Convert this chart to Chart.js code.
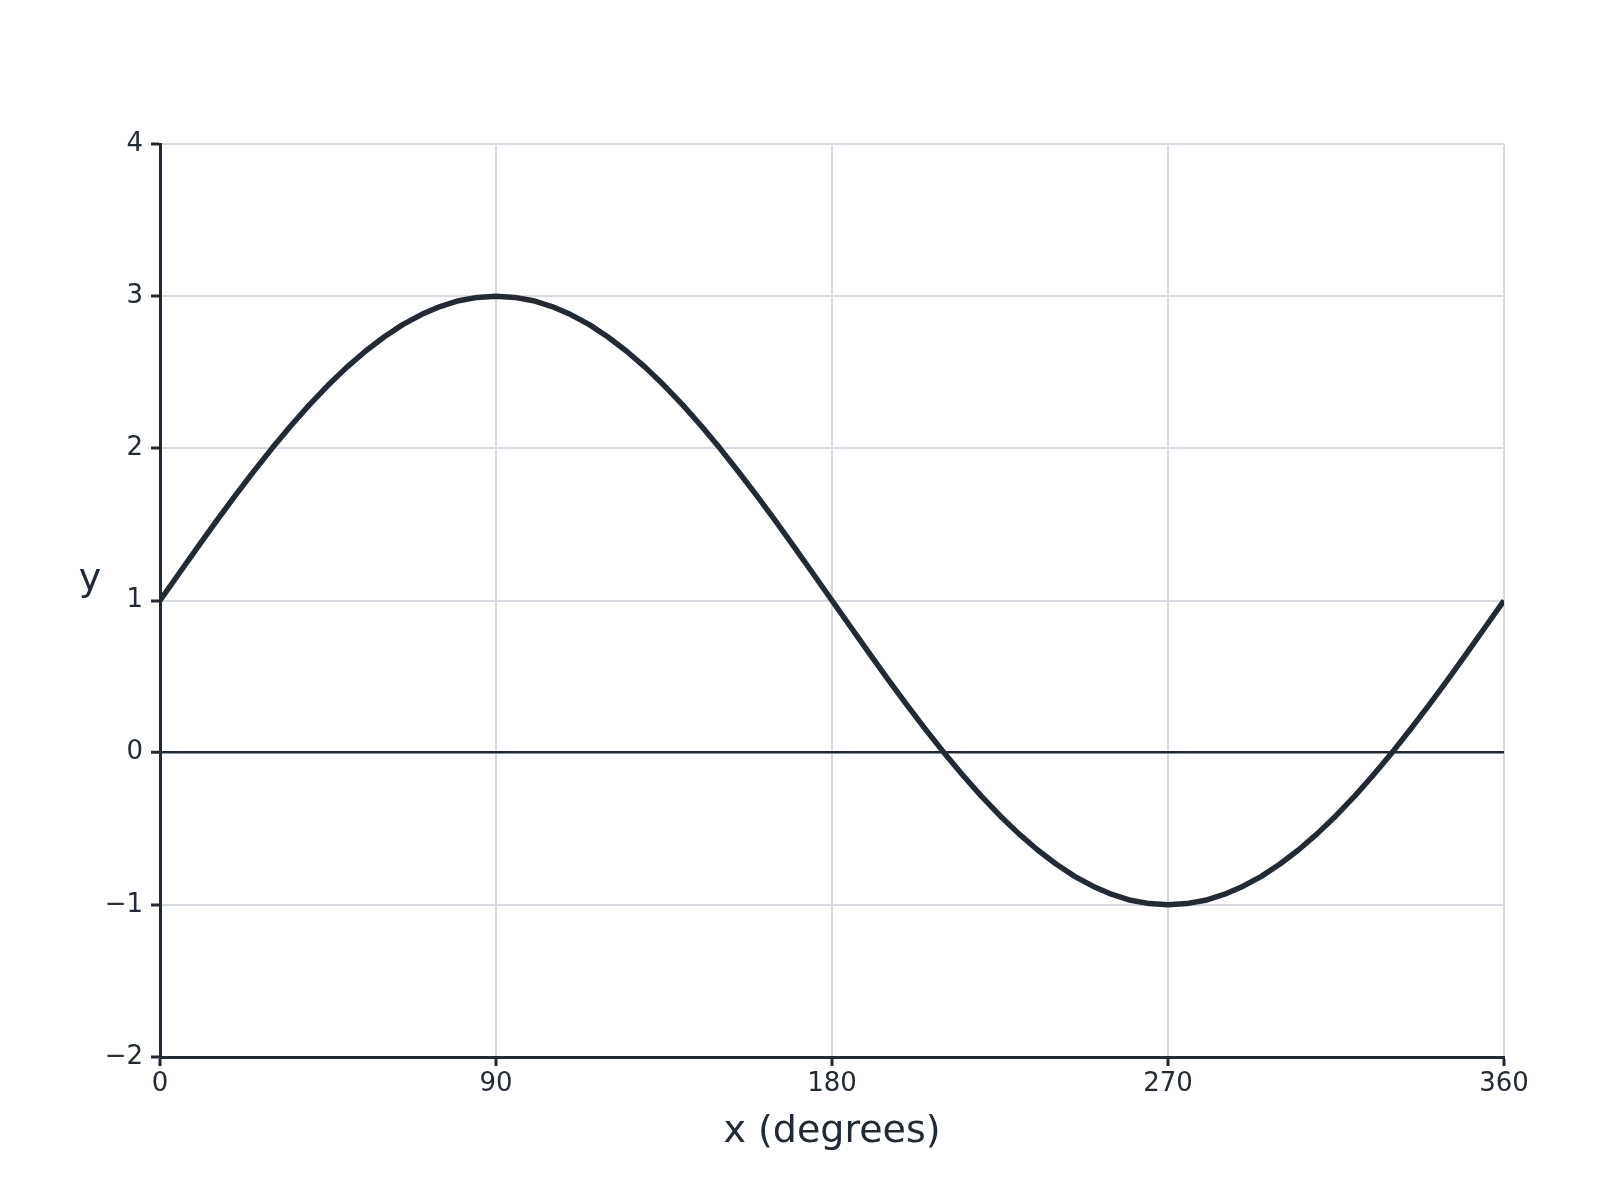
<!DOCTYPE html>
<html>
<head>
<meta charset="utf-8">
<title>y = 1 + 2 sin x</title>
<script src="https://cdn.jsdelivr.net/npm/chart.js@4/dist/chart.umd.min.js"></script>
<style>
  html, body { margin: 0; padding: 0; background: #ffffff; }
  #chart { display: block; }
</style>
</head>
<body>
<canvas id="chart" width="1600" height="1200"></canvas>
<script>
// values, every 5 degrees
const xDegrees = [0, 5, 10, 15, 20, 25, 30, 35, 40, 45, 50, 55, 60, 65, 70, 75, 80, 85, 90,
  95, 100, 105, 110, 115, 120, 125, 130, 135, 140, 145, 150, 155, 160, 165, 170, 175, 180,
  185, 190, 195, 200, 205, 210, 215, 220, 225, 230, 235, 240, 245, 250, 255, 260, 265, 270,
  275, 280, 285, 290, 295, 300, 305, 310, 315, 320, 325, 330, 335, 340, 345, 350, 355, 360];
const yValues = [1.000, 1.174, 1.347, 1.518, 1.684, 1.845, 2.000, 2.147, 2.286, 2.414, 2.532, 2.638, 2.732, 2.813, 2.879, 2.932, 2.970, 2.992, 3.000,
  2.992, 2.970, 2.932, 2.879, 2.813, 2.732, 2.638, 2.532, 2.414, 2.286, 2.147, 2.000, 1.845, 1.684, 1.518, 1.347, 1.174, 1.000,
  0.826, 0.653, 0.482, 0.316, 0.155, 0.000, -0.147, -0.286, -0.414, -0.532, -0.638, -0.732, -0.813, -0.879, -0.932, -0.970, -0.992, -1.000,
  -0.992, -0.970, -0.932, -0.879, -0.813, -0.732, -0.638, -0.532, -0.414, -0.286, -0.147, 0.000, 0.155, 0.316, 0.482, 0.653, 0.826, 1.000];
const xTicks = [0, 90, 180, 270, 360];
const yTicks = [-2, -1, 0, 1, 2, 3, 4];
const xTitle = "x (degrees)";
const yTitle = "y";

const ink = "#212a35";
const gridGrey = "#d6d9e1";
const font = "'DejaVu Sans', sans-serif";

const points = xDegrees.map((x, i) => ({ x: x, y: yValues[i] }));

// horizontal "y" label to the left of the axis
const yLabelPlugin = {
  id: "yLabel",
  afterDraw(chart) {
    const ctx = chart.ctx;
    const area = chart.chartArea;
    ctx.save();
    ctx.fillStyle = ink;
    ctx.font = "38px " + font;
    ctx.textAlign = "center";
    ctx.textBaseline = "alphabetic";
    ctx.fillText(yTitle, 90, (area.top + area.bottom) / 2 - 11);
    ctx.restore();
  }
};

new Chart(document.getElementById("chart"), {
  type: "line",
  data: {
    datasets: [{
      data: points,
      borderColor: ink,
      borderWidth: 5.5,
      borderJoinStyle: "round",
      pointRadius: 0,
      tension: 0,
      fill: false
    }]
  },
  options: {
    responsive: false,
    animation: false,
    devicePixelRatio: 1,
    layout: { padding: { top: 144, right: 96, left: 0, bottom: 0 } },
    plugins: { legend: { display: false }, tooltip: { enabled: false } },
    scales: {
      x: {
        type: "linear",
        min: xTicks[0],
        max: xTicks[xTicks.length - 1],
        afterFit: (scale) => { scale.height = 143; },
        afterBuildTicks: (scale) => { scale.ticks = xTicks.map(v => ({ value: v })); },
        border: { color: ink, width: 3 },
        grid: { color: gridGrey, lineWidth: 2, tickLength: 9, tickColor: ink, tickWidth: 3 },
        ticks: { color: ink, font: { family: font, size: 26 }, padding: 3, maxRotation: 0 },
        title: {
          display: true,
          text: xTitle,
          color: ink,
          font: { family: font, size: 38 },
          padding: { top: 0, bottom: 45 }
        }
      },
      y: {
        type: "linear",
        min: yTicks[0],
        max: yTicks[yTicks.length - 1],
        afterFit: (scale) => { scale.width = 160; },
        afterBuildTicks: (scale) => { scale.ticks = yTicks.map(v => ({ value: v })); },
        border: { color: ink, width: 3 },
        grid: {
          color: (c) => (c.tick && c.tick.value === 0 ? ink : gridGrey),
          lineWidth: (c) => (c.tick && c.tick.value === 0 ? 2.5 : 2),
          tickLength: 9,
          tickColor: ink,
          tickWidth: 3
        },
        ticks: {
          color: ink,
          font: { family: font, size: 26 },
          padding: 8,
          callback: (v) => (v < 0 ? "\u2212" + Math.abs(v) : String(v))
        }
      }
    }
  },
  plugins: [yLabelPlugin]
});
</script>
</body>
</html>
